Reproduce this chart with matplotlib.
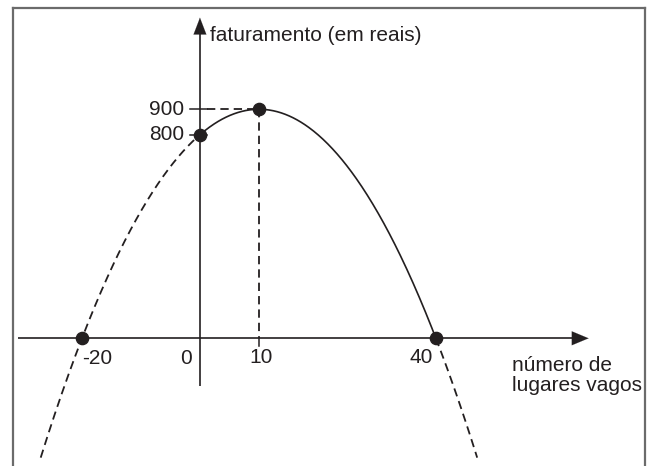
import matplotlib
import numpy as np

matplotlib.use("Agg")
import matplotlib.pyplot as plt  # noqa: E402
from matplotlib.lines import Line2D  # noqa: E402

# revenue parabola given by its roots and vertex
ROOTS = [-20, 40]
VERTEX = (10, 900)
Y_INTERCEPT = 800
X_TAIL = (-27, 47)          # where the dashed continuation stops
X_TICKS = [-20, 0, 10, 40]
X_TICK_LABELS = ["-20", "0", "10", "40"]
Y_TICKS = [900, 800]
Y_TICK_LABELS = ["900", "800"]
Y_LABEL = "faturamento (em reais)"
X_LABEL = "número de\nlugares vagos"

INK = "#231f20"
plt.rcParams["font.family"] = ["Liberation Sans", "DejaVu Sans"]
FS = 15

# a(x - r1)(x - r2) with a fixed by the vertex
a = VERTEX[1] / ((VERTEX[0] - ROOTS[0]) * (VERTEX[0] - ROOTS[1]))


def f(x):
    return a * (x - ROOTS[0]) * (x - ROOTS[1])


fig = plt.figure(figsize=(6.5, 4.66), dpi=100)
ax = fig.add_axes([0, 0, 1, 1])
ax.set_xlim(-33.9, 76.3)
ax.set_ylim(-501.8, 1329.3)
ax.axis("off")

dash = (0, (4.6, 2.8))

# axes with arrow heads
ax.plot([-30.9, 64.0], [0, 0], color=INK, lw=1.2, solid_capstyle="butt")
ax.plot([0, 0], [-187, 1240], color=INK, lw=1.2, solid_capstyle="butt")
ax.annotate("", xy=(65.9, 0), xytext=(63.0, 0),
            arrowprops=dict(arrowstyle="-|>,head_length=1.2,head_width=0.5", color=INK, lw=0.1,
                            shrinkA=0, shrinkB=0))
ax.annotate("", xy=(0, 1260), xytext=(0, 1200),
            arrowprops=dict(arrowstyle="-|>,head_length=1.2,head_width=0.46", color=INK, lw=0.1,
                            shrinkA=0, shrinkB=0))

# curve: solid between 0 and the right root, dashed outside
xs = np.linspace(0, ROOTS[1], 300)
ax.plot(xs, f(xs), color=INK, lw=1.2)
xl = np.linspace(X_TAIL[0], 0, 300)
ax.plot(xl, f(xl), color=INK, lw=1.3, ls=dash)
xr = np.linspace(ROOTS[1], X_TAIL[1], 100)
ax.plot(xr, f(xr), color=INK, lw=1.3, ls=dash)

# guides to the vertex
ax.plot([1.2, VERTEX[0]], [VERTEX[1], VERTEX[1]], color=INK, lw=1.3, ls=dash)
ax.plot([VERTEX[0], VERTEX[0]], [VERTEX[1], 0], color=INK, lw=1.3, ls=dash)

# small ticks
for yv in Y_TICKS:
    ax.plot([-1.7, 1.2], [yv, yv], color=INK, lw=1.1)
ax.plot([VERTEX[0], VERTEX[0]], [0, -31], color=INK, lw=1.1)

# points
px = [ROOTS[0], 0, VERTEX[0], ROOTS[1]]
py = [0, Y_INTERCEPT, VERTEX[1], 0]
ax.plot(px, py, "o", color=INK, ms=8.8, zorder=5)

# tick labels
for lab, yv in zip(Y_TICK_LABELS, Y_TICKS):
    ax.annotate(lab, (0, yv), xytext=(-16, 0), textcoords="offset pixels",
                ha="right", va="center", fontsize=FS, color=INK)
offs = {"-20": (0, -20, "left"), "0": (-8, -20, "right"),
        "10": (2, -19, "center"), "40": (-3, -19, "right")}
for lab, xv in zip(X_TICK_LABELS, X_TICKS):
    dx, dy, ha = offs[lab]
    ax.annotate(lab, (xv, 0), xytext=(dx, dy), textcoords="offset pixels",
                ha=ha, va="center", fontsize=FS, color=INK)

ax.annotate(Y_LABEL, (0, 1258.5), xytext=(10, -17), textcoords="offset pixels",
            ha="left", va="center", fontsize=FS, color=INK)
ax.annotate(X_LABEL, (65.9, 0), xytext=(-77, -37), textcoords="offset pixels",
            ha="left", va="center", fontsize=FS, color=INK, linespacing=1.1)

# frame around the figure (bottom edge falls outside)
fr = dict(color="#6b6b6b", lw=1.6, transform=fig.transFigure)
fig.add_artist(Line2D([12.7 / 650, 12.7 / 650], [0, 1 - 8 / 466], **fr))
fig.add_artist(Line2D([645 / 650, 645 / 650], [0, 1 - 8 / 466], **fr))
fig.add_artist(Line2D([12.7 / 650, 645 / 650], [1 - 8 / 466, 1 - 8 / 466], **fr))

fig.savefig("out.png", dpi=100)
